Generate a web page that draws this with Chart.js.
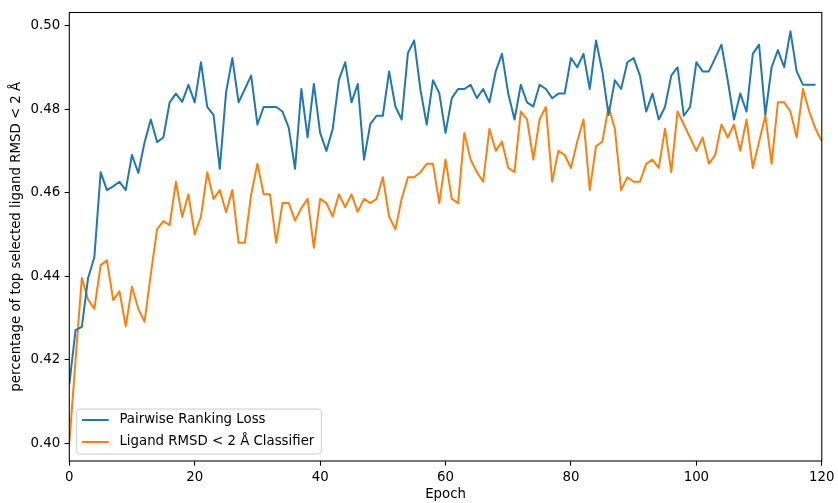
<!DOCTYPE html>
<html>
<head>
<meta charset="utf-8">
<script src="https://cdn.jsdelivr.net/npm/chart.js@4/dist/chart.umd.min.js"></script>
<style>
    body { margin: 0; background: #fff; }
    canvas { display: block; }
</style>
</head>
<body>
<canvas id="epoch-chart" width="838" height="503"></canvas>
<script>
const FONT = "'DejaVu Sans', sans-serif";
const FONT_SIZE = 13.33;

// Series, one value per epoch.
const seriesNames = ["Pairwise Ranking Loss", "Ligand RMSD < 2 Å Classifier"];
const seriesColors = ["#1f77b4", "#ff7f0e"];

const pairwiseValues = [
    0.4141, 0.4271, 0.4279, 0.4396, 0.4446, 0.4649, 0.4606, 0.4615, 0.4626, 0.4606,
    0.4690, 0.4647, 0.4720, 0.4775, 0.4721, 0.4732, 0.4816, 0.4837, 0.4817, 0.4858,
    0.4816, 0.4912, 0.4805, 0.4786, 0.4657, 0.4840, 0.4922, 0.4816, 0.4848, 0.4880,
    0.4763, 0.4805, 0.4805, 0.4805, 0.4794, 0.4755, 0.4657, 0.4848, 0.4732, 0.4860,
    0.4743, 0.4700, 0.4752, 0.4870, 0.4912, 0.4816, 0.4860, 0.4679, 0.4764, 0.4784,
    0.4784, 0.4890, 0.4806, 0.4775, 0.4934, 0.4964, 0.4846, 0.4763, 0.4869, 0.4838,
    0.4743, 0.4826, 0.4848, 0.4848, 0.4858, 0.4826, 0.4848, 0.4816, 0.4890, 0.4932,
    0.4837, 0.4775, 0.4858, 0.4816, 0.4806, 0.4858, 0.4848, 0.4826, 0.4837, 0.4837,
    0.4922, 0.4900, 0.4932, 0.4848, 0.4964, 0.4890, 0.4786, 0.4869, 0.4848, 0.4912,
    0.4922, 0.4880, 0.4794, 0.4837, 0.4775, 0.4805, 0.4880, 0.4900, 0.4784, 0.4805,
    0.4912, 0.4890, 0.4890, 0.4922, 0.4954, 0.4869, 0.4775, 0.4837, 0.4794, 0.4932,
    0.4954, 0.4786, 0.4900, 0.4941, 0.4900, 0.4986, 0.4890, 0.4858, 0.4858, 0.4858
];

const classifierValues = [
    0.4000, 0.4200, 0.4396, 0.4344, 0.4322, 0.4426, 0.4438, 0.4343, 0.4364, 0.4280,
    0.4375, 0.4322, 0.4291, 0.4405, 0.4512, 0.4532, 0.4522, 0.4626, 0.4542, 0.4596,
    0.4500, 0.4543, 0.4649, 0.4585, 0.4606, 0.4553, 0.4606, 0.4480, 0.4480, 0.4595,
    0.4669, 0.4596, 0.4596, 0.4480, 0.4575, 0.4575, 0.4533, 0.4563, 0.4585, 0.4468,
    0.4585, 0.4575, 0.4543, 0.4596, 0.4565, 0.4596, 0.4554, 0.4585, 0.4575, 0.4585,
    0.4637, 0.4543, 0.4512, 0.4585, 0.4637, 0.4637, 0.4649, 0.4669, 0.4669, 0.4575,
    0.4679, 0.4585, 0.4575, 0.4743, 0.4679, 0.4649, 0.4626, 0.4753, 0.4700, 0.4722,
    0.4659, 0.4649, 0.4794, 0.4775, 0.4679, 0.4775, 0.4805, 0.4626, 0.4700, 0.4690,
    0.4659, 0.4722, 0.4775, 0.4606, 0.4711, 0.4722, 0.4805, 0.4753, 0.4606, 0.4637,
    0.4626, 0.4626, 0.4669, 0.4679, 0.4659, 0.4753, 0.4649, 0.4794, 0.4763, 0.4732,
    0.4700, 0.4732, 0.4669, 0.4690, 0.4763, 0.4732, 0.4763, 0.4700, 0.4775, 0.4659,
    0.4722, 0.4784, 0.4669, 0.4816, 0.4816, 0.4794, 0.4732, 0.4848, 0.4794, 0.4753,
    0.4723
];

const xTicks = [0, 20, 40, 60, 80, 100, 120];
const yTicks = [0.40, 0.42, 0.44, 0.46, 0.48, 0.50];

function ToPoints(values) {
    // Epoch number is the index into the array.
    return values.map(function (v, i) { return { x: i, y: v }; });
}

function MakeDataset(i, values) {
    return {
        label: seriesNames[i],
        data: ToPoints(values),
        borderColor: seriesColors[i],
        backgroundColor: seriesColors[i],
        borderWidth: 2,
        borderJoinStyle: "round",
        pointRadius: 0,
        tension: 0,
        fill: false
    };
}

// Black box round the plot area, like matplotlib spines.
const framePlugin = {
    id: "frame",
    afterDraw: function (chart) {
        const a = chart.chartArea;
        const ctx = chart.ctx;
        ctx.save();
        ctx.strokeStyle = "#000";
        ctx.lineWidth = 1.07;
        ctx.strokeRect(a.left, a.top, a.right - a.left, a.bottom - a.top);
        ctx.restore();
    }
};

// Legend box in the lower left corner of the plot.
const legendPlugin = {
    id: "boxLegend",
    afterDraw: function (chart) {
        const ctx = chart.ctx;
        ctx.save();
        ctx.font = FONT_SIZE + "px " + FONT;
        const textW = Math.max.apply(null, seriesNames.map(function (n) { return ctx.measureText(n).width; }));
        const left = 76.7, top = 409, h = 45;
        const w = 5.3 + 26.7 + 10.7 + textW + 7;
        ctx.beginPath();
        ctx.roundRect(left, top, w, h, 3);
        ctx.fillStyle = "rgba(255,255,255,0.8)";
        ctx.fill();
        ctx.strokeStyle = "#cccccc";
        ctx.lineWidth = 1;
        ctx.stroke();
        const rows = [420, 442];
        for (let i = 0; i < seriesNames.length; i++) {
            ctx.beginPath();
            ctx.moveTo(left + 5.3, rows[i]);
            ctx.lineTo(left + 32, rows[i]);
            ctx.strokeStyle = seriesColors[i];
            ctx.lineWidth = 2;
            ctx.stroke();
            ctx.fillStyle = "#000";
            ctx.textBaseline = "middle";
            ctx.textAlign = "left";
            ctx.fillText(seriesNames[i], left + 42.7, rows[i]);
        }
        ctx.restore();
    }
};

const tickFont = { family: FONT, size: FONT_SIZE };

new Chart(document.getElementById("epoch-chart"), {
    type: "line",
    data: {
        datasets: [MakeDataset(0, pairwiseValues), MakeDataset(1, classifierValues)]
    },
    plugins: [framePlugin, legendPlugin],
    options: {
        responsive: false,
        animation: false,
        devicePixelRatio: 1,
        layout: { padding: { top: 12, right: 14.7, left: 0, bottom: 0 } },
        plugins: {
            legend: { display: false },
            tooltip: { enabled: false }
        },
        scales: {
            x: {
                type: "linear",
                min: 0,
                max: 120,
                afterBuildTicks: function (s) { s.ticks = xTicks.map(function (v) { return { value: v }; }); },
                afterFit: function (s) { s.height = 42; },
                ticks: {
                    color: "#000",
                    font: tickFont,
                    padding: 3.5,
                    maxRotation: 0,
                    autoSkip: false,
                    callback: function (v) { return String(v); }
                },
                grid: { drawOnChartArea: false, tickLength: 4.67, color: "#000", tickWidth: 1.07 },
                border: { display: false },
                title: {
                    display: true,
                    text: "Epoch",
                    color: "#000",
                    font: tickFont,
                    padding: { top: 0, bottom: 0 }
                }
            },
            y: {
                type: "linear",
                min: 0.3958,
                max: 0.5031,
                afterBuildTicks: function (s) { s.ticks = yTicks.map(function (v) { return { value: v }; }); },
                afterFit: function (s) { s.width = 69.3; },
                ticks: {
                    color: "#000",
                    font: tickFont,
                    padding: 4.5,
                    autoSkip: false,
                    callback: function (v) { return v.toFixed(2); }
                },
                grid: { drawOnChartArea: false, tickLength: 4.67, color: "#000", tickWidth: 1.07 },
                border: { display: false },
                title: {
                    display: true,
                    text: "percentage of top selected ligand RMSD < 2 Å",
                    color: "#000",
                    font: tickFont,
                    padding: { top: 9, bottom: 0 }
                }
            }
        }
    }
});
</script>
</body>
</html>
